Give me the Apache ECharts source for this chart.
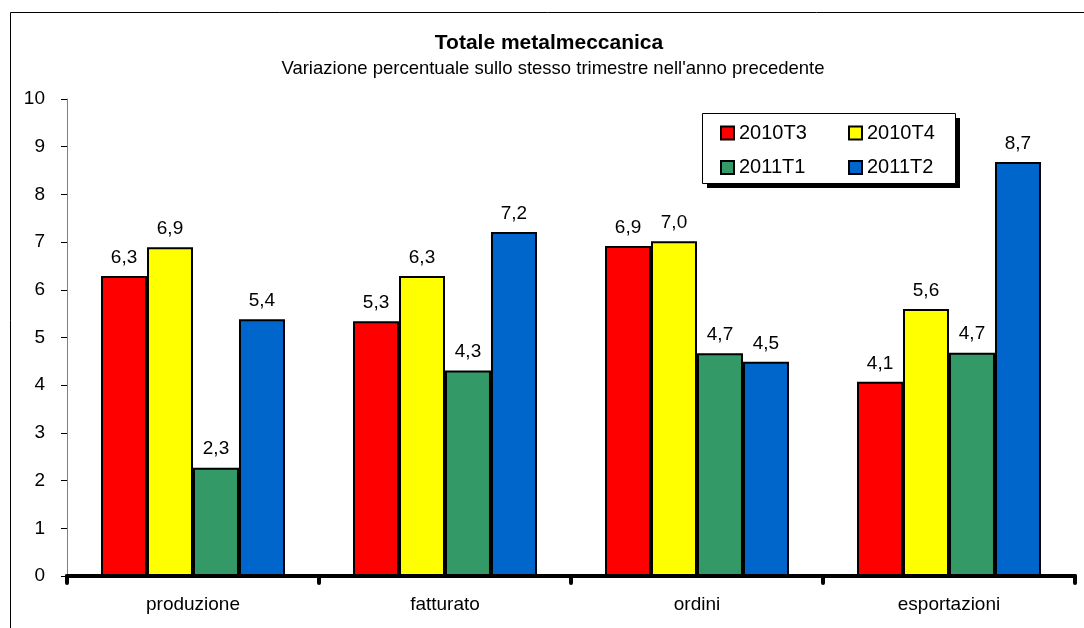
<!DOCTYPE html>
<html>
<head>
<meta charset="utf-8">
<script src="https://cdn.jsdelivr.net/npm/echarts@6/dist/echarts.min.js"></script>
<style>
html,body{margin:0;padding:0;background:#fff;}
#c{width:1084px;height:628px;}
</style>
</head>
<body>
<div id="c"></div>
<script>
var categories = ['produzione', 'fatturato', 'ordini', 'esportazioni'];
var seriesNames = ['2010T3', '2010T4', '2011T1', '2011T2'];
var s2010T3 = [6.29, 5.34, 6.92, 4.07];
var s2010T4 = [6.89, 6.29, 7.02, 5.60];
var s2011T1 = [2.27, 4.31, 4.67, 4.68];
var s2011T2 = [5.38, 7.21, 4.49, 8.68];
var yTicks = [0, 1, 2, 3, 4, 5, 6, 7, 8, 9, 10];
var colors = ['#FF0000', '#FFFF00', '#339966', '#0066CC'];
var values = [s2010T3, s2010T4, s2011T1, s2011T2];
var titleText = 'Totale metalmeccanica';
var subtitleText = "Variazione percentuale sullo stesso trimestre nell'anno precedente";

var FONT = '"Liberation Sans", Arial, sans-serif';
var chart = echarts.init(document.getElementById('c'));

var series = seriesNames.map(function (n, i) {
  return {
    name: n,
    type: 'bar',
    data: values[i],
    barGap: '0%',
    barCategoryGap: '27%',
    itemStyle: { color: colors[i], borderColor: '#000', borderWidth: 2 },
    label: {
      show: true, position: 'top', distance: 9,
      color: '#000', fontFamily: FONT, fontSize: 19,
      formatter: function (p) { return p.value.toFixed(1).replace('.', ','); }
    },
    z: 3
  };
});

var legendCommon = {
  orient: 'vertical', top: 118, itemGap: 14.5,
  itemWidth: 13, itemHeight: 13, icon: 'rect', z: 20,
  itemStyle: { borderColor: '#000', borderWidth: 2 },
  textStyle: { fontFamily: FONT, fontSize: 20, color: '#000', padding: [0, 0, 0, 0] }
};

chart.setOption({
  animation: false,
  backgroundColor: '#fff',
  graphic: [
    { type: 'rect', shape: { x: 10.5, y: 12.5, width: 1100, height: 700 },
      style: { fill: null, stroke: '#000', lineWidth: 1 }, silent: true, z: 0 },
    { type: 'text', x: 549, y: 43, silent: true, z: 5,
      style: { text: titleText, textAlign: 'center', textVerticalAlign: 'middle',
        font: 'bold 21px ' + FONT, fill: '#000' } },
    { type: 'text', x: 553, y: 69, silent: true, z: 5,
      style: { text: subtitleText, textAlign: 'center', textVerticalAlign: 'middle',
        font: '18.5px ' + FONT, fill: '#000' } },
    { type: 'rect', shape: { x: 707, y: 118, width: 253, height: 70 },
      style: { fill: '#000' }, silent: true, z: 10 },
    { type: 'rect', shape: { x: 702.5, y: 113.5, width: 253, height: 70 },
      style: { fill: '#fff', stroke: '#000', lineWidth: 1 }, silent: true, z: 11 }
  ],
  legend: [
    Object.assign({ data: ['2010T3', '2011T1'], left: 715 }, legendCommon),
    Object.assign({ data: ['2010T4', '2011T2'], left: 843 }, legendCommon)
  ],
  grid: { left: 67, right: 9, top: 99, bottom: 52, containLabel: false },
  xAxis: {
    type: 'category',
    data: categories,
    axisLine: { lineStyle: { color: '#000', width: 4, cap: 'round' } },
    axisTick: { show: true, length: 7, lineStyle: { color: '#000', width: 4, cap: 'round' } },
    axisLabel: { fontFamily: FONT, fontSize: 19, color: '#000', margin: 19 },
    z: 5
  },
  yAxis: {
    type: 'value',
    min: 0, max: 10, interval: 1,
    axisLine: { show: true, lineStyle: { color: '#808080', width: 1 } },
    axisTick: { show: true, length: 6, lineStyle: { color: '#000', width: 1 } },
    axisLabel: { fontFamily: FONT, fontSize: 19, color: '#000', margin: 22,
      formatter: function (v) { return yTicks.indexOf(v) >= 0 ? String(v) : ''; } },
    splitLine: { show: false }
  },
  series: series
});
</script>
</body>
</html>
